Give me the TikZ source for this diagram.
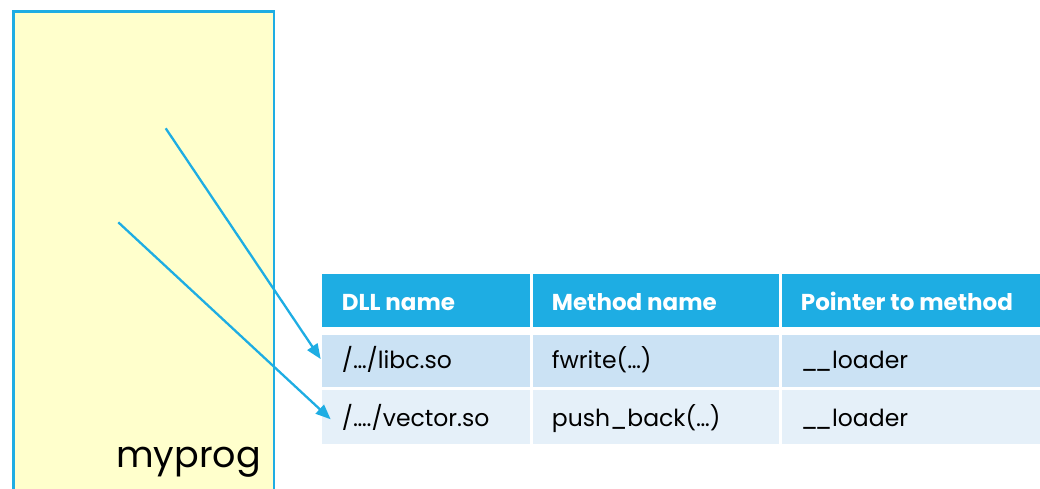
\documentclass[tikz,border=0pt]{standalone}
\usepackage{fontspec}
\setmainfont{Poppins}
\usetikzlibrary{arrows.meta,positioning}
\definecolor{accent}{HTML}{1EADE3}
\definecolor{progfill}{HTML}{FFFFCC}
\definecolor{rowA}{HTML}{CBE2F4}
\definecolor{rowB}{HTML}{E5F0F9}
\newcommand{\dunder}{\_\kern-3.2pt\_}
\tikzset{
  cell/.style={rectangle, anchor=north west, inner sep=0pt, outer sep=0pt},
  headcell/.style={cell, fill=accent},
  oddcell/.style={cell, fill=rowA},
  evencell/.style={cell, fill=rowB},
  headtext/.style={anchor=base west, inner sep=0pt, text=white, font=\fontsize{23}{26}\selectfont\bfseries},
  bodytext/.style={anchor=base west, inner sep=0pt, text=black, font=\fontsize{23.5}{26}\selectfont},
  pointer/.style={draw=accent, line width=2.3pt, -{Triangle[length=15pt,width=12pt]}},
}
\begin{document}
\begin{tikzpicture}[x=1pt, y=-1pt]
\useasboundingbox (0,0) rectangle (1040,488);
\clip (0,0) rectangle (1040,488);

% program image
\node[cell, draw=accent, line width=2.6pt, fill=progfill,
      minimum width=260.5pt, minimum height=500pt] (prog) at (13.3,11.3) {};
\node[anchor=base east, inner sep=0pt, font=\fontsize{36.5}{40}\selectfont] (progname) at (261,467) {myprog};

% table header
\node[headcell, minimum width=208pt, minimum height=52.7pt] (h1) at (322,274) {};
\node[headcell, minimum width=246.6pt, minimum height=52.7pt] (h2) at (532.7,274) {};
\node[headcell, minimum width=270pt, minimum height=52.7pt] (h3) at (781.7,274) {};
% first row
\node[oddcell, minimum width=208pt, minimum height=51.7pt] (a1) at (322,335) {};
\node[oddcell, minimum width=246.6pt, minimum height=51.7pt] (a2) at (532.7,335) {};
\node[oddcell, minimum width=270pt, minimum height=51.7pt] (a3) at (781.7,335) {};
% second row
\node[evencell, minimum width=208pt, minimum height=54pt] (b1) at (322,390) {};
\node[evencell, minimum width=246.6pt, minimum height=54pt] (b2) at (532.7,390) {};
\node[evencell, minimum width=270pt, minimum height=54pt] (b3) at (781.7,390) {};

% cell texts
\node[headtext] (th1) at (341.7,310) {DLL name};
\node[headtext] (th2) at (551.7,310) {Method name};
\node[headtext] (th3) at (800.7,310) {Pointer to method};
\node[bodytext] (ta1) at (341.7,368.3) {/…/libc.so};
\node[bodytext] (ta2) at (551.7,368.3) {fwrite(…)};
\node[bodytext] (ta3) at (800.7,368.3) {\dunder loader};
\node[bodytext] (tb1) at (341.7,426.7) {/…./vector.so};
\node[bodytext] (tb2) at (551.7,426.7) {push\_back(…)};
\node[bodytext] (tb3) at (800.7,426.7) {\dunder loader};

% references from the program into the table
\coordinate (src1) at (165.7,128.3);
\coordinate (src2) at (118.3,222.3);
\draw[pointer] (src1) -- ([xshift=-1.3pt, yshift=1.8pt]a1.west);
\draw[pointer] (src2) -- ([xshift=8.7pt, yshift=-2.3pt]b1.west);
\end{tikzpicture}
\end{document}
